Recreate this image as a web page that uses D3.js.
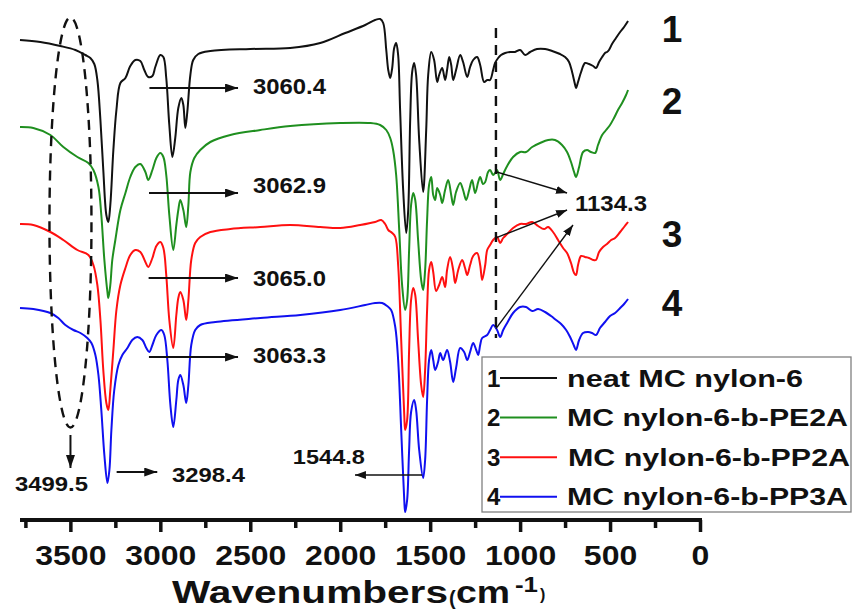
<!DOCTYPE html>
<html>
<head>
<meta charset="utf-8">
<script src="https://cdn.jsdelivr.net/npm/d3@7"></script>
<style>
  html, body { margin: 0; padding: 0; background: #fff; }
  svg { display: block; }
  text { font-family: Arial, "Liberation Sans", sans-serif; font-weight: bold; fill: #111; }
</style>
</head>
<body>
<svg id="chart" width="854" height="615"></svg>
<script>
// FTIR spectra, stacked with offsets: [wavenumber (cm-1), transmittance (a.u.)]
const seriesNames = ["neat MC nylon-6", "MC nylon-6-b-PE2A", "MC nylon-6-b-PP2A", "MC nylon-6-b-PP3A"];
const seriesIds = ["1", "2", "3", "4"];

const neatNylon = [
  [3780,100],[3667,99.6],[3556,98.8],[3472,98],[3417,97],[3389,96.4],[3367,95.2],[3350,92],[3333,84],[3317,74],
  [3300,65],[3289,63.6],[3278,67],[3261,78],[3244,86],[3222,91.4],[3194,92.4],[3167,94.8],[3139,96],[3111,95.8],
  [3089,94],[3067,92.6],[3044,92.8],[3028,94.6],[3000,97],[2983,96.6],[2967,92.4],[2950,83],[2933,76.6],[2917,80.4],
  [2900,86.4],[2883,88.4],[2872,87],[2861,82.4],[2850,85.6],[2833,93],[2817,96],[2789,97.2],[2722,97.8],[2500,98.2],
  [2278,98.4],[2111,99.4],[1972,101.4],[1861,103],[1806,104],[1778,104.2],[1761,103.4],[1744,98],[1733,94],[1722,92.4],
  [1711,94.4],[1700,98.4],[1689,99.4],[1678,97],[1667,86],[1650,70],[1633,61.4],[1622,66],[1611,84],[1600,93.6],
  [1589,95.4],[1578,93],[1561,80],[1539,69.6],[1522,82],[1511,93],[1494,97.6],[1478,96],[1461,91.6],[1450,93],
  [1433,94.4],[1417,92],[1406,94],[1394,96.6],[1383,95],[1372,92],[1356,94],[1333,97],[1317,95.6],[1294,92.6],
  [1278,94.6],[1261,96],[1239,96.6],[1222,95],[1200,91.6],[1183,92],[1167,92],[1150,94],[1139,95.4],[1122,96.4],
  [1106,97],[1083,97.4],[1056,97.6],[1028,97.6],[1000,98],[972,97],[944,97.6],[906,98.2],[861,98.2],[822,97.8],
  [778,97.2],[750,96.6],[728,95.6],[711,93.6],[694,91],[689,90.4],[678,91.6],[661,93.6],[639,95.4],[617,95.2],
  [594,94.8],[578,94.4],[561,95.6],[544,96.6],[528,97.4],[517,97.6],[506,98],[489,99.2],[467,100.4],[444,101.6],
  [422,102.6],[400,103.8]
];

const pe2a = [
  [3780,82.6],[3706,82.4],[3611,81],[3539,78.6],[3461,76.6],[3400,75.4],[3372,74],[3344,70.6],[3328,65],[3311,56],
  [3294,49.6],[3289,48.4],[3278,51],[3267,56],[3250,60],[3222,66],[3194,69.4],[3167,72.6],[3139,74.6],[3111,75.2],
  [3083,73.6],[3067,72],[3044,74],[3022,76.4],[3000,77.4],[2983,76.6],[2967,73],[2950,65],[2928,58],[2911,63],
  [2900,66],[2889,68],[2872,66],[2856,62.6],[2844,67],[2833,73.6],[2811,76.4],[2778,78],[2722,79.6],[2611,81],
  [2444,82],[2278,82.8],[2000,83.4],[1833,83.4],[1778,83],[1744,82],[1722,80.4],[1706,78],[1689,73],[1672,62],
  [1656,51],[1639,46],[1628,48],[1617,58],[1606,67],[1594,69.4],[1583,68],[1567,60],[1550,52],[1539,50],
  [1528,54],[1517,64],[1506,71],[1494,72.6],[1483,69],[1472,68],[1461,70.4],[1444,69],[1433,67.4],[1417,70],
  [1400,72],[1383,69],[1372,67],[1356,69.6],[1333,71.4],[1317,70],[1300,68],[1283,70],[1267,72],[1250,69.4],
  [1233,71.6],[1222,72.6],[1206,71.2],[1194,71.6],[1178,73.6],[1167,74],[1150,73],[1139,73.4],[1128,74],[1111,72],
  [1094,73.2],[1072,74.8],[1039,76.6],[1000,77.6],[967,77.6],[933,78.6],[889,79.4],[844,80],[806,80],[767,79],
  [739,77.6],[717,75.6],[700,73.6],[689,72.6],[672,74.6],[650,77.6],[628,78],[606,77.6],[583,77.4],[567,79],
  [544,81],[522,82],[500,83],[478,84.4],[456,86],[433,87.4],[411,89],[400,90]
];

const pp2a = [
  [3780,63.2],[3706,63],[3611,61.6],[3539,60],[3461,58],[3400,57],[3372,55],[3350,51],[3333,44],[3317,34],
  [3300,27.4],[3289,26],[3278,30],[3261,38],[3244,46],[3222,51],[3194,54.4],[3167,57],[3139,58],[3111,57.6],
  [3083,55.6],[3067,54.6],[3044,56.4],[3022,58.8],[3000,59.6],[2983,58.4],[2967,53],[2950,44],[2928,38.4],[2911,45],
  [2900,48.4],[2889,49.6],[2872,48],[2856,44],[2844,48],[2828,56],[2806,59.4],[2778,60.6],[2722,61.6],[2611,62.2],
  [2444,62.6],[2278,63],[2111,62.6],[2000,62.4],[1889,63],[1806,63.6],[1772,64],[1750,63.2],[1733,62],[1711,61.4],
  [1694,60.6],[1678,55],[1661,40],[1644,25],[1639,22],[1628,24],[1617,38],[1606,48],[1594,50.4],[1583,49],
  [1567,40],[1550,31],[1539,28.6],[1528,34],[1517,46],[1506,54],[1494,55.6],[1483,53.6],[1467,49.8],[1450,51],
  [1433,52.6],[1417,50.6],[1406,54],[1389,56.6],[1372,54],[1361,51.4],[1344,54],[1322,56],[1306,54.4],[1294,53],
  [1278,55],[1261,56.8],[1239,57.4],[1222,55],[1211,52],[1194,55],[1183,58],[1167,59],[1150,60],[1128,60.6],
  [1111,59.4],[1094,60.4],[1072,61.2],[1039,62.4],[1000,63.2],[967,63.2],[933,63.6],[900,62.8],[867,62.2],[844,62.6],
  [817,61.6],[789,60],[761,58.4],[739,57.4],[717,55.4],[700,53.4],[689,53],[678,55],[661,56.8],[639,56.6],
  [617,56.4],[594,56],[578,56],[561,57.6],[539,58.6],[517,59.2],[494,60],[472,60.4],[444,61.6],[422,62.6],[400,63.6]
];

const pp3a = [
  [3780,46.4],[3706,46.2],[3611,45.4],[3567,44.4],[3528,43],[3483,42],[3444,41.4],[3406,40.4],[3383,39.4],[3361,37],
  [3344,33],[3328,26],[3311,17],[3294,11.4],[3283,14],[3272,22],[3256,30],[3233,35],[3211,37],[3183,38.4],
  [3156,40],[3128,40.6],[3100,40],[3078,38.4],[3061,37.6],[3044,39],[3022,41],[2994,42],[2978,41],[2961,36],
  [2944,27],[2928,22.6],[2911,28],[2900,32],[2889,33],[2872,31],[2856,27.4],[2844,31],[2828,39],[2806,42],
  [2778,43],[2694,43.6],[2444,44.4],[2222,45],[2000,46],[1861,47],[1806,47.4],[1767,47.4],[1739,46.8],[1717,46],
  [1694,42.6],[1678,36],[1661,22],[1644,8],[1639,5.6],[1628,8],[1617,18],[1606,25.6],[1589,28],[1578,26],
  [1561,18],[1539,12.4],[1528,16],[1517,28],[1506,36],[1494,38],[1483,36],[1472,34],[1456,35.6],[1444,37.4],
  [1428,36],[1406,38],[1389,35.6],[1372,31.6],[1356,34.4],[1333,38.4],[1311,37.6],[1294,36],[1278,37.6],[1261,39.4],
  [1244,38],[1233,37],[1222,39],[1211,40.4],[1183,41],[1167,42],[1150,43],[1128,42],[1111,40.6],[1094,42],
  [1072,43.4],[1039,45.4],[1000,46.6],[967,46.6],[933,45.8],[900,46.2],[861,45.6],[828,44.8],[800,44],[772,43.2],
  [744,42],[722,40.6],[700,38.8],[689,38],[672,40],[650,41.4],[622,41.6],[600,41.4],[578,41],[556,42.4],
  [528,43.6],[500,44.8],[472,45.4],[444,46.4],[422,47.2],[400,48.2]
];

const spectra = [neatNylon, pe2a, pp2a, pp3a];

// axis ticks (cm-1)
const majorTicks = [3500, 3000, 2500, 2000, 1500, 1000, 500, 0];
const minorTicks = [3750, 3250, 2750, 2250, 1750, 1250, 750, 250];

// marked bands
const chBands = [3060.4, 3062.9, 3065.0, 3063.3];     // one per spectrum
const chArrowLevel = [90.4, 69.4, 52.4, 36.6];
const chLabelLevel = [90.8, 71.0, 52.4, 37.0];
const nhBand = 3298.4;
const ohBand = 3499.5;
const amideBand = 1544.8;
const cBand = 1134.3;
const seriesTagLevel = [102.2, 87.8, 61.2, 47.4];

// ---- drawing ----
const colors = ["#111111", "#1f8f1f", "#ff1010", "#1010f0"];
const svg = d3.select("#chart");
const x = d3.scaleLinear().domain([3780, 0]).range([20, 700]);
const y = d3.scaleLinear().domain([0, 108]).range([540, 0]);
const axisY = 520;

const defs = svg.append("defs");
function marker(id, len, half) {
  defs.append("marker").attr("id", id)
    .attr("viewBox", `0 0 ${len} ${half * 2}`)
    .attr("refX", len).attr("refY", half)
    .attr("markerWidth", len).attr("markerHeight", half * 2)
    .attr("markerUnits", "userSpaceOnUse").attr("orient", "auto")
    .append("path").attr("d", `M0,0L${len},${half}L0,${half * 2}Z`).attr("fill", "#111");
}
marker("head", 13, 4.5);
marker("headSmall", 11, 4);

// spectra
const line = d3.line().x(d => x(d[0])).y(d => y(d[1])).curve(d3.curveCatmullRom.alpha(0.5));
svg.append("g").selectAll("path").data(spectra).join("path")
  .attr("d", line).attr("fill", "none")
  .attr("stroke", (d, i) => colors[i]).attr("stroke-width", 2).attr("stroke-linejoin", "round");

// value of a spectrum at a wavenumber (linear between samples)
function valueAt(data, wn) {
  for (let i = 0; i < data.length - 1; i++) {
    const a = data[i], b = data[i + 1];
    if (wn <= a[0] && wn >= b[0]) return a[1] + (b[1] - a[1]) * (a[0] - wn) / (a[0] - b[0]);
  }
  return data[data.length - 1][1];
}

// dashed ellipse around the O-H region
svg.append("ellipse")
  .attr("cx", x(ohBand)).attr("cy", y(63.5)).attr("rx", 21).attr("ry", 205)
  .attr("fill", "none").attr("stroke", "#111").attr("stroke-width", 2.4).attr("stroke-dasharray", "10,7");

// dashed line at 1134.3
svg.append("line")
  .attr("x1", x(cBand)).attr("x2", x(cBand)).attr("y1", y(102.4)).attr("y2", y(40.4))
  .attr("stroke", "#111").attr("stroke-width", 2.4).attr("stroke-dasharray", "10,7");

// C-H arrows and labels
const ann = svg.append("g");
chBands.forEach((wn, i) => {
  ann.append("line")
    .attr("x1", x(wn)).attr("x2", x(2568)).attr("y1", y(chArrowLevel[i])).attr("y2", y(chArrowLevel[i]))
    .attr("stroke", "#111").attr("stroke-width", 2).attr("marker-end", "url(#head)");
  ann.append("text").attr("x", x(2485)).attr("y", y(chLabelLevel[i]))
    .attr("dy", "0.36em").attr("font-size", 22).attr("textLength", 73).attr("lengthAdjust", "spacingAndGlyphs")
    .text(wn.toFixed(1));
});

// N-H band
ann.append("line")
  .attr("x1", x(nhBand) + 10).attr("x2", x(3017)).attr("y1", y(13.6)).attr("y2", y(13.6))
  .attr("stroke", "#111").attr("stroke-width", 2).attr("marker-end", "url(#head)");
ann.append("text").attr("x", x(2935)).attr("y", y(13.2)).attr("dy", "0.36em")
  .attr("font-size", 21).attr("textLength", 73).attr("lengthAdjust", "spacingAndGlyphs").text(nhBand.toFixed(1));

// O-H band
ann.append("line")
  .attr("x1", x(ohBand)).attr("x2", x(ohBand)).attr("y1", y(21)).attr("y2", y(14.4))
  .attr("stroke", "#111").attr("stroke-width", 2).attr("marker-end", "url(#head)");
ann.append("text").attr("x", x(3605)).attr("y", y(11.4)).attr("dy", "0.36em").attr("text-anchor", "middle")
  .attr("font-size", 21).attr("textLength", 73).attr("lengthAdjust", "spacingAndGlyphs").text(ohBand.toFixed(1));

// amide II band
ann.append("line")
  .attr("x1", x(amideBand)).attr("x2", x(1918)).attr("y1", y(13)).attr("y2", y(13))
  .attr("stroke", "#111").attr("stroke-width", 1.6).attr("marker-end", "url(#headSmall)");
ann.append("text").attr("x", x(2063)).attr("y", y(16.8)).attr("dy", "0.36em").attr("text-anchor", "middle")
  .attr("font-size", 21).attr("textLength", 72).attr("lengthAdjust", "spacingAndGlyphs").text(amideBand.toFixed(1));

// 1134.3 arrows from curves 2-4
const cTargets = [[739, 69.4], [739, 66], [706, 63]];
[pe2a, pp2a, pp3a].forEach((s, i) => {
  ann.append("line")
    .attr("x1", x(cBand)).attr("y1", y(valueAt(s, cBand)))
    .attr("x2", x(cTargets[i][0])).attr("y2", y(cTargets[i][1]))
    .attr("stroke", "#111").attr("stroke-width", 1.4).attr("marker-end", "url(#headSmall)");
});
ann.append("text").attr("x", x(695)).attr("y", y(67.4)).attr("dy", "0.36em")
  .attr("font-size", 22).attr("textLength", 72).attr("lengthAdjust", "spacingAndGlyphs").text(cBand.toFixed(1));

// series tags on the right
svg.append("g").selectAll("text").data(seriesIds).join("text")
  .attr("x", x(400) + 44).attr("y", (d, i) => y(seriesTagLevel[i])).attr("dy", "0.36em")
  .attr("text-anchor", "middle").attr("font-size", 37).text(d => d);

// x axis
const axisG = svg.append("g").attr("transform", `translate(0,${axisY})`);
axisG.call(d3.axisBottom(x).tickValues(majorTicks).tickFormat(d3.format("d")).tickSize(12).tickSizeOuter(0));
axisG.select(".domain").attr("stroke", "#111").attr("stroke-width", 4).attr("d", `M${x(3780)},0H${x(0) + 2}`);
axisG.selectAll(".tick line").attr("stroke", "#111").attr("stroke-width", 3.5);
axisG.selectAll(".tick text")
  .attr("y", 45).attr("dy", null).attr("fill", "#111")
  .attr("font-size", 28).attr("font-family", null)
  .attr("textLength", d => String(d).length * 17.8).attr("lengthAdjust", "spacingAndGlyphs");
const minorG = svg.append("g").attr("transform", `translate(0,${axisY})`);
minorG.call(d3.axisBottom(x).tickValues(minorTicks).tickSize(8).tickFormat(""));
minorG.select(".domain").remove();
minorG.selectAll(".tick line").attr("stroke", "#111").attr("stroke-width", 3.5);

// axis title
const title = svg.append("g");
title.append("text").attr("x", 172).attr("y", 603).attr("font-size", 32)
  .attr("textLength", 276).attr("lengthAdjust", "spacingAndGlyphs").text("Wavenumbers");
title.append("text").attr("x", 449).attr("y", 605).attr("font-size", 20).text("(");
title.append("text").attr("x", 456).attr("y", 603).attr("font-size", 32)
  .attr("textLength", 54).attr("lengthAdjust", "spacingAndGlyphs").text("cm");
title.append("text").attr("x", 515).attr("y", 592).attr("font-size", 22)
  .attr("textLength", 23).attr("lengthAdjust", "spacingAndGlyphs").text("-1");
title.append("text").attr("x", 540).attr("y", 600).attr("font-size", 16).text(")");

// legend
const lg = svg.append("g").attr("transform", "translate(482,357)");
lg.append("rect").attr("width", 369).attr("height", 155)
  .attr("fill", "#fff").attr("stroke", "#808080").attr("stroke-width", 1.3);
const textWidths = [236, 281, 282, 281];
seriesNames.forEach((name, i) => {
  const row = lg.append("g").attr("transform", `translate(0,${21 + i * 39.6})`);
  row.append("text").attr("x", 5).attr("y", 0).attr("dy", "0.36em").attr("font-size", 24).text(seriesIds[i]);
  row.append("line").attr("x1", 18).attr("x2", 75).attr("y1", 0).attr("y2", 0)
    .attr("stroke", colors[i]).attr("stroke-width", 2);
  row.append("text").attr("x", i === 2 ? 86 : 85).attr("y", 0).attr("dy", "0.36em").attr("font-size", 24)
    .attr("textLength", textWidths[i]).attr("lengthAdjust", "spacingAndGlyphs").text(name);
});
</script>
</body>
</html>
